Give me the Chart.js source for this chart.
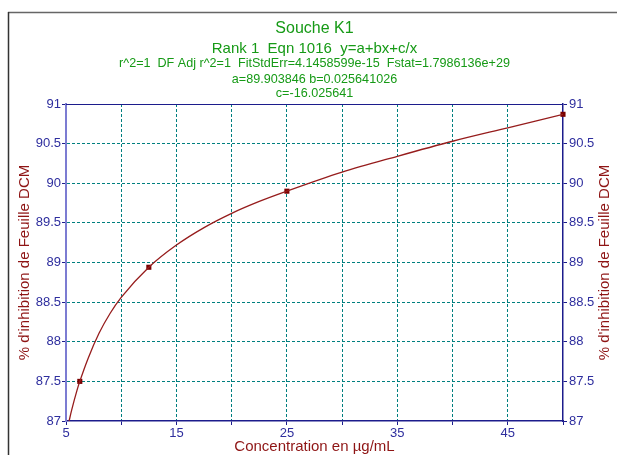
<!DOCTYPE html>
<html>
<head>
<meta charset="utf-8">
<script src="https://cdn.jsdelivr.net/npm/chart.js@4.4.0/dist/chart.umd.min.js"></script>
<style>
  html, body { margin: 0; padding: 0; background: #fff; }
  #wrap { width: 617px; height: 455px; }
</style>
</head>
<body>
<div id="wrap"><canvas id="fitChart" width="617" height="455"></canvas></div>
<script>
// chart text
const titleLines = [
    'Souche K1',
    'Rank 1  Eqn 1016  y=a+bx+c/x',
    'r^2=1  DF Adj r^2=1  FitStdErr=4.1458599e-15  Fstat=1.7986136e+29',
    'a=89.903846 b=0.025641026',
    'c=-16.025641'
];
const xTitle = 'Concentration en µg/mL';
const yTitle = "% d'inhibition de Feuille DCM";

// fitted curve
const fitX = [5.28, 5.5, 6, 6.25, 7, 8, 9, 10, 12.5, 15, 17.5, 20, 22.5, 25, 30, 35, 40, 45, 50];
const fitY = [87.0, 87.13, 87.39, 87.5, 87.79, 88.11, 88.36, 88.56, 88.94, 89.22, 89.44, 89.62, 89.77, 89.9, 90.14, 90.34, 90.53, 90.7, 90.87];

// measured points
const obsX = [6.25, 12.5, 25, 50];
const obsY = [87.5, 88.94, 89.9, 90.87];

// x tick labels that are printed (ticks every 5)
const xLabelled = [5, 15, 25, 35, 45];

const navy = '#1c1c8c';
const tickText = '#2e2e9e';
const darkRed = '#8e1414';
const green = '#169a16';
const teal = '#007f7f';

const edgeClear = (min, max) => ctx => {
    const v = ctx.tick ? ctx.tick.value : null;
    return (v === min || v === max) ? 'rgba(0,0,0,0)' : teal;
};

const decor = {
    id: 'decor',
    beforeDraw(chart) {
        const ctx = chart.ctx;
        ctx.save();
        ctx.fillStyle = '#fff';
        ctx.fillRect(0, 0, chart.width, chart.height);
        // outer frame
        ctx.lineWidth = 1.5;
        ctx.strokeStyle = '#666';
        ctx.beginPath();
        ctx.moveTo(8, 12.5);
        ctx.lineTo(617, 12.5);
        ctx.stroke();
        ctx.strokeStyle = '#333';
        ctx.beginPath();
        ctx.moveTo(8.5, 12);
        ctx.lineTo(8.5, 455);
        ctx.stroke();
        ctx.restore();
    },
    afterDraw(chart) {
        const ctx = chart.ctx;
        const area = chart.chartArea;
        const cx = (area.left + area.right) / 2;
        ctx.save();
        // top edge of plot
        ctx.strokeStyle = navy;
        ctx.lineWidth = 1;
        ctx.beginPath();
        ctx.moveTo(area.left, area.top + 0.5);
        ctx.lineTo(area.right, area.top + 0.5);
        ctx.stroke();

        // titles
        ctx.fillStyle = green;
        ctx.textAlign = 'center';
        ctx.textBaseline = 'alphabetic';
        const fonts = ['16px', '15px', '12.6px', '12.6px', '12.6px'];
        const ys = [33, 53, 67, 83, 97];
        titleLines.forEach((t, i) => {
            ctx.font = fonts[i] + ' "Liberation Sans", Arial, sans-serif';
            ctx.fillText(t, cx, ys[i]);
        });

        // axis titles
        ctx.fillStyle = darkRed;
        ctx.font = '15px "Liberation Sans", Arial, sans-serif';
        ctx.textBaseline = 'middle';
        ctx.fillText(xTitle, cx, 447);
        const cy = (area.top + area.bottom) / 2;
        [25, 605].forEach(x => {
            ctx.save();
            ctx.translate(x, cy);
            ctx.rotate(-Math.PI / 2);
            ctx.fillText(yTitle, 0, 0);
            ctx.restore();
        });
        ctx.restore();
    }
};

const tickFont = { family: '"Liberation Sans", Arial, sans-serif', size: 13 };

const yAxis = (position, borderColor, borderWidth, onArea) => ({
    type: 'linear',
    position: position,
    min: 87,
    max: 91,
    afterFit: s => { s.width = position === 'left' ? 66 : 54; },
    ticks: {
        stepSize: 0.5,
        autoSkip: false,
        color: tickText,
        font: tickFont,
        padding: position === 'left' ? 1 : 2,
        callback: v => String(v)
    },
    grid: {
        drawOnChartArea: onArea,
        color: edgeClear(87, 91),
        tickColor: navy,
        tickLength: 4,
        lineWidth: 1
    },
    border: { color: borderColor, width: borderWidth, dash: [3, 2] }
});

new Chart(document.getElementById('fitChart'), {
    type: 'scatter',
    data: {
        datasets: [
            {
                data: fitX.map((x, i) => ({ x: x, y: fitY[i] })),
                showLine: true,
                borderColor: '#961c1c',
                borderWidth: 1.3,
                pointRadius: 0,
                cubicInterpolationMode: 'monotone',
                yAxisID: 'y'
            },
            {
                data: obsX.map((x, i) => ({ x: x, y: obsY[i] })),
                showLine: false,
                pointStyle: 'rect',
                pointRadius: 3.6,
                backgroundColor: '#7a0000',
                borderColor: '#7a0000',
                borderWidth: 0,
                clip: false,
                yAxisID: 'y'
            }
        ]
    },
    options: {
        responsive: false,
        animation: false,
        devicePixelRatio: 1,
        layout: { padding: { top: 104, left: 0, right: 0, bottom: 0 } },
        plugins: {
            legend: { display: false },
            tooltip: { enabled: false },
            title: { display: false }
        },
        scales: {
            x: {
                type: 'linear',
                min: 5,
                max: 50,
                afterFit: s => { s.height = 34; },
                ticks: {
                    stepSize: 5,
                    autoSkip: false,
                    maxRotation: 0,
                    color: tickText,
                    font: tickFont,
                    padding: 1,
                    callback: v => xLabelled.includes(v) ? String(v) : ''
                },
                grid: {
                    color: edgeClear(5, 50),
                    tickColor: navy,
                    tickLength: 4,
                    lineWidth: 1
                },
                border: { color: navy, width: 1.5, dash: [3, 2] }
            },
            y: yAxis('left', '#7c7cd2', 2, true),
            y2: yAxis('right', navy, 1.5, false)
        }
    },
    plugins: [decor]
});
</script>
</body>
</html>
